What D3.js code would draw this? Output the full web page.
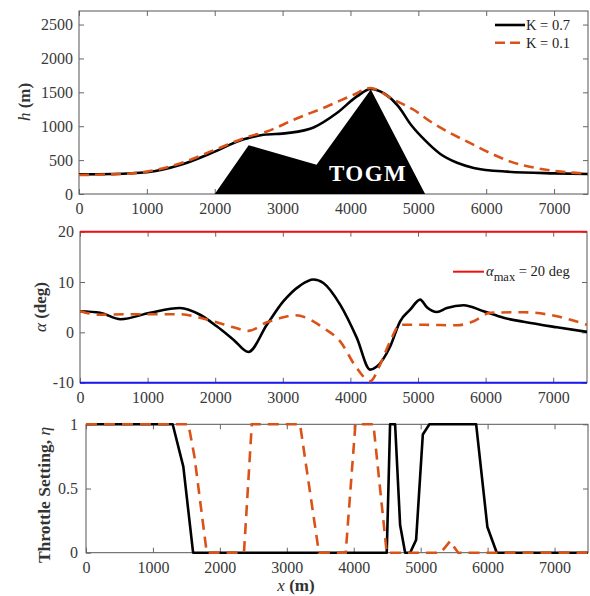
<!DOCTYPE html>
<html><head><meta charset="utf-8">
<script src="https://cdn.jsdelivr.net/npm/d3@7"></script>
<style>
body{margin:0;background:#fff;}
svg{font-family:"Liberation Serif","Times New Roman",serif;}
</style></head>
<body>
<svg id="c" width="590" height="596"></svg>
<script>
// ---------- DATA ----------
const xTicks = [0,1000,2000,3000,4000,5000,6000,7000];
const hTicks = [0,500,1000,1500,2000,2500];
const alphaTicks = [-10,0,10,20];
const etaTicks = [0,0.5,1];
const etaTickLabels = ["0","0.5","1"];

const seriesNames = ["K = 0.7","K = 0.1"];

// top panel: altitude h (m)
const terrainX = [2000,2500,3500,4300,5100];
const terrainH = [0,720,430,1540,0];

const hBlackX = [0,500,1000,1500,2000,2375,2500,2718,3063,3456,3800,4095,4300,4500,4700,4900,5100,5324,5571,5816,6308,7000,7500];
const hBlackY = [290,295,320,430,625,790,825,873,898,981,1194,1440,1550,1480,1300,1010,790,590,460,385,330,305,296];

const hRedX = [0,500,1000,1500,2000,2500,2768,3161,3653,4046,4292,4636,4931,5177,5472,5767,6062,6357,6751,7094,7500];
const hRedY = [281,290,330,454,651,848,922,1095,1292,1465,1563,1391,1243,1070,898,750,602,478,380,330,300];

// middle panel: angle of attack alpha (deg)
const aBlackX = [0,296,600,1036,1480,1776,2023,2270,2491,2764,3010,3256,3453,3600,3848,4095,4292,4392,4588,4736,4884,5032,5131,5279,5427,5674,5970,6266,6562,7055,7500];
const aBlackY = [4.2,3.9,2.6,3.9,4.85,3.5,1.2,-1.45,-3.9,1.5,6.2,9.3,10.5,9.8,5.5,-1.1,-7.4,-6.8,-2.8,2.2,4.5,6.5,5.0,4.05,4.85,5.4,4.2,2.9,2.1,1.0,0.1];

const aRedX = [0,296,691,1036,1480,1776,2023,2270,2491,2764,3010,3180,3600,3848,4095,4292,4440,4588,4736,5081,5575,5822,6069,6562,7055,7500];
const aRedY = [4.2,3.5,3.6,3.6,3.6,2.9,2.0,1.0,0.3,2.0,3.0,3.4,0.9,-1.8,-7.1,-9.7,-6.4,-1.8,1.5,1.5,1.4,2.2,3.9,4.0,3.2,1.5];

const alphaMax = 20, alphaMin = -10;

// bottom panel: throttle setting eta
const tBlackX = [0,1295,1454,1600,4493,4543,4618,4693,4768,4843,4932,5032,5131,5829,5997,6137,7500];
const tBlackY = [1,1,0.67,0,0,1,1,0.215,0,0,0.1,0.92,1,1,0.2,0,0];

const tRedX = [0,1530,1620,1804,2360,2477,3198,3480,3880,4025,4294,4493,5300,5440,5560,7500];
const tRedY = [1,1,0.75,0,0,1,1,0,0,1,1,0,0,0.09,0,0];

// ---------- DRAW ----------
const svg = d3.select("#c");
const BLACK = "#000", RED = "#d95319";
const zip = (xs, ys) => xs.map((x,i)=>[x,ys[i]]);

function panel(o){
  const x = d3.scaleLinear().domain([0,7500]).range([o.left,o.right]);
  const y = d3.scaleLinear().domain(o.ydom).range([o.bottom,o.top]);
  const g = svg.append("g");
  g.append("rect").attr("x",o.left).attr("y",o.top).attr("width",o.right-o.left).attr("height",o.bottom-o.top)
    .attr("fill","none").attr("stroke","#555").attr("stroke-width",1);
  const ax = g.append("g").attr("transform",`translate(0,${o.bottom})`)
    .call(d3.axisBottom(x).tickValues(xTicks).tickSize(-5).tickPadding(9).tickFormat(d3.format("d")));
  const axT = g.append("g").attr("transform",`translate(0,${o.top})`)
    .call(d3.axisTop(x).tickValues(xTicks).tickSize(-5).tickFormat(""));
  const ay = g.append("g").attr("transform",`translate(${o.left},0)`)
    .call(d3.axisLeft(y).tickValues(o.yticks).tickSize(-5).tickPadding(o.ypad||6).tickFormat((d,i)=>o.ylabels?o.ylabels[i]:d));
  const ayR = g.append("g").attr("transform",`translate(${o.right},0)`)
    .call(d3.axisRight(y).tickValues(o.yticks).tickSize(-5).tickFormat(""));
  [ax,axT,ay,ayR].forEach(a=>{
    a.select(".domain").remove();
    a.selectAll("line").attr("stroke","#666");
    a.selectAll("text").attr("fill","#3a3a3a").style("font-size","16px").style("font-family","Liberation Serif");
  });
  return {x,y,g};
}

// ---- top
const P1 = panel({left:79,right:588,top:11,bottom:194,ydom:[0,2700],yticks:hTicks});
P1.g.append("path").datum(zip(terrainX,terrainH))
  .attr("d",d3.line().x(d=>P1.x(d[0])).y(d=>P1.y(d[1]))).attr("fill","#000");
P1.g.append("text").attr("x",P1.x(4260)).attr("y",P1.y(185)).attr("text-anchor","middle")
  .attr("fill","#fff").style("font-size","23px").style("font-weight","bold").style("letter-spacing","1.5px").text("TOGM");
const l1 = d3.line().x(d=>P1.x(d[0])).y(d=>P1.y(d[1])).curve(d3.curveMonotoneX);
P1.g.append("path").datum(zip(hBlackX,hBlackY)).attr("d",l1).attr("fill","none").attr("stroke",BLACK).attr("stroke-width",2.6);
P1.g.append("path").datum(zip(hRedX,hRedY)).attr("d",l1).attr("fill","none").attr("stroke",RED).attr("stroke-width",2.6).attr("stroke-dasharray","10,6");
const leg = svg.append("g");
[[BLACK,null,25],[RED,"10,5",42.7]].forEach((s,i)=>{
  leg.append("line").attr("x1",495).attr("x2",525).attr("y1",s[2]).attr("y2",s[2])
    .attr("stroke",s[0]).attr("stroke-width",2.6).attr("stroke-dasharray",s[1]);
  leg.append("text").attr("x",526).attr("y",s[2]+5).style("font-size","14.5px").attr("fill","#222").text(seriesNames[i]);
});
svg.append("text").attr("transform","translate(30,102) rotate(-90)").attr("text-anchor","middle")
  .style("font-size","17px").attr("fill","#333")
  .call(t=>{t.append("tspan").style("font-style","italic").text("h");t.append("tspan").style("font-weight","bold").text(" (m)");});

// ---- middle
const P2 = panel({left:80,right:587,top:231.7,bottom:382.7,ydom:[-10,20],yticks:alphaTicks});
P2.g.append("line").attr("x1",P2.x(0)).attr("x2",P2.x(7500)).attr("y1",P2.y(alphaMax)).attr("y2",P2.y(alphaMax))
  .attr("stroke","#f01010").attr("stroke-width",2);
P2.g.append("line").attr("x1",P2.x(0)).attr("x2",P2.x(7500)).attr("y1",P2.y(alphaMin)).attr("y2",P2.y(alphaMin))
  .attr("stroke","#1818f0").attr("stroke-width",2);
const l2 = d3.line().x(d=>P2.x(d[0])).y(d=>P2.y(d[1])).curve(d3.curveMonotoneX);
P2.g.append("path").datum(zip(aBlackX,aBlackY)).attr("d",l2).attr("fill","none").attr("stroke",BLACK).attr("stroke-width",2.6);
P2.g.append("path").datum(zip(aRedX,aRedY)).attr("d",l2).attr("fill","none").attr("stroke",RED).attr("stroke-width",2.6).attr("stroke-dasharray","10,7");
svg.append("line").attr("x1",453).attr("x2",484).attr("y1",271.7).attr("y2",271.7).attr("stroke","#f01010").attr("stroke-width",2);
svg.append("text").attr("x",486).attr("y",276).style("font-size","14.5px").attr("fill","#222")
  .call(t=>{t.append("tspan").style("font-style","italic").text("α");
    t.append("tspan").attr("dy",5).style("font-size","12.5px").text("max");
    t.append("tspan").attr("dy",-5).text(" = 20 deg");});
svg.append("text").attr("transform","translate(46,307) rotate(-90)").attr("text-anchor","middle")
  .style("font-size","17px").attr("fill","#333")
  .call(t=>{t.append("tspan").style("font-style","italic").text("α");t.append("tspan").style("font-weight","bold").text(" (deg)");});

// ---- bottom
const P3 = panel({left:86,right:588,top:424.3,bottom:552.7,ydom:[0,1],yticks:etaTicks,ylabels:etaTickLabels,ypad:8});
const l3 = d3.line().x(d=>P3.x(d[0])).y(d=>P3.y(d[1]));
P3.g.append("path").datum(zip(tBlackX,tBlackY)).attr("d",l3).attr("fill","none").attr("stroke",BLACK).attr("stroke-width",2.6).attr("stroke-linejoin","round");
P3.g.append("path").datum(zip(tRedX,tRedY)).attr("d",l3).attr("fill","none").attr("stroke",RED).attr("stroke-width",2.6).attr("stroke-dasharray","11,7");
svg.append("text").attr("transform","translate(50,495) rotate(-90)").attr("text-anchor","middle")
  .style("font-size","17.5px").style("font-weight","bold").attr("fill","#333")
  .call(t=>{t.append("tspan").text("Throttle Setting, ");t.append("tspan").style("font-style","italic").style("font-weight","normal").text("η");});
svg.append("text").attr("x",296).attr("y",591).attr("text-anchor","middle").style("font-size","17px").attr("fill","#333")
  .call(t=>{t.append("tspan").style("font-style","italic").text("x");t.append("tspan").style("font-weight","bold").text(" (m)");});
</script>
</body></html>
